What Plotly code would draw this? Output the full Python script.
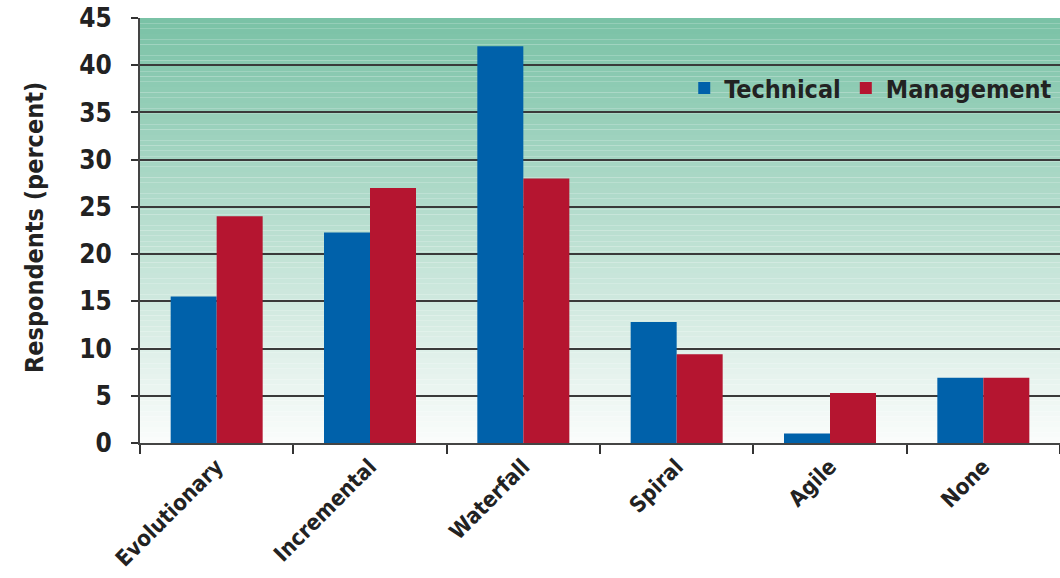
import plotly.graph_objects as go

# Survey data: development lifecycle used, by respondent group (percent)
categories = ["Evolutionary", "Incremental", "Waterfall", "Spiral", "Agile", "None"]
technical = [15.5, 22.3, 42, 12.8, 1, 6.9]
management = [24, 27, 28, 9.4, 5.3, 6.9]

FONT = "DejaVu Sans Condensed, Liberation Sans Narrow, sans-serif"
BLUE = "#0061AA"
RED = "#B51530"
INK = "#222222"

fig = go.Figure()
fig.add_trace(go.Bar(name="Technical", x=categories, y=technical,
                     marker=dict(color=BLUE, line=dict(width=0))))
fig.add_trace(go.Bar(name="Management", x=categories, y=management,
                     marker=dict(color=RED, line=dict(width=0))))

# vertical green-to-white gradient behind the bars
top = (122, 194, 166)
bottom = (250, 252, 251)
n = 80
shapes = []
for i in range(n):
    t = i / (n - 1)
    c = tuple(round(top[k] + (bottom[k] - top[k]) * t) for k in range(3))
    shapes.append(dict(type="rect", xref="x domain", yref="y domain",
                       x0=0, x1=1, y0=1 - (i + 1) / n, y1=1 - i / n,
                       fillcolor="rgb(%d,%d,%d)" % c, line=dict(width=0),
                       layer="below"))

fig.update_layout(
    width=1060, height=578,
    margin=dict(l=140, r=0, t=18, b=135),
    paper_bgcolor="white",
    plot_bgcolor="rgba(0,0,0,0)",
    shapes=shapes,
    barmode="group",
    bargap=0.4,
    bargroupgap=0,
    font=dict(family=FONT, size=25, color=INK, weight="bold"),
    showlegend=True,
    legend=dict(orientation="h", x=0.997, xanchor="right", y=0.835, yanchor="middle",
                bgcolor="rgba(0,0,0,0)",
                font=dict(family=FONT, size=25, color=INK, weight="bold"),
                itemwidth=30, traceorder="normal"),
    xaxis=dict(
        tickson="boundaries", ticks="outside", ticklen=9, tickwidth=2, tickcolor="#333333",
        showline=True, linecolor="#444444", linewidth=2, automargin=False,
        tickangle=-45, tickfont=dict(family=FONT, size=22, color=INK, weight="bold"),
        showgrid=False,
    ),
    yaxis=dict(
        range=[0, 45], dtick=5, ticks="outside", ticklen=7, tickwidth=2, tickcolor="#333333",
        showline=True, linecolor="#444444", linewidth=2, automargin=False,
        showgrid=True, gridcolor="#3a3a3a", gridwidth=2,
        zeroline=False, ticklabelstandoff=14,
        tickfont=dict(family=FONT, size=26, color=INK, weight="bold"),
    ),
    annotations=[dict(text="Respondents (percent)", xref="paper", yref="paper",
                      x=-0.114, y=0.506, xanchor="center", yanchor="middle",
                      textangle=-90, showarrow=False,
                      font=dict(family=FONT, size=25, color=INK, weight="bold"))],
)

fig.write_html("out.html")
